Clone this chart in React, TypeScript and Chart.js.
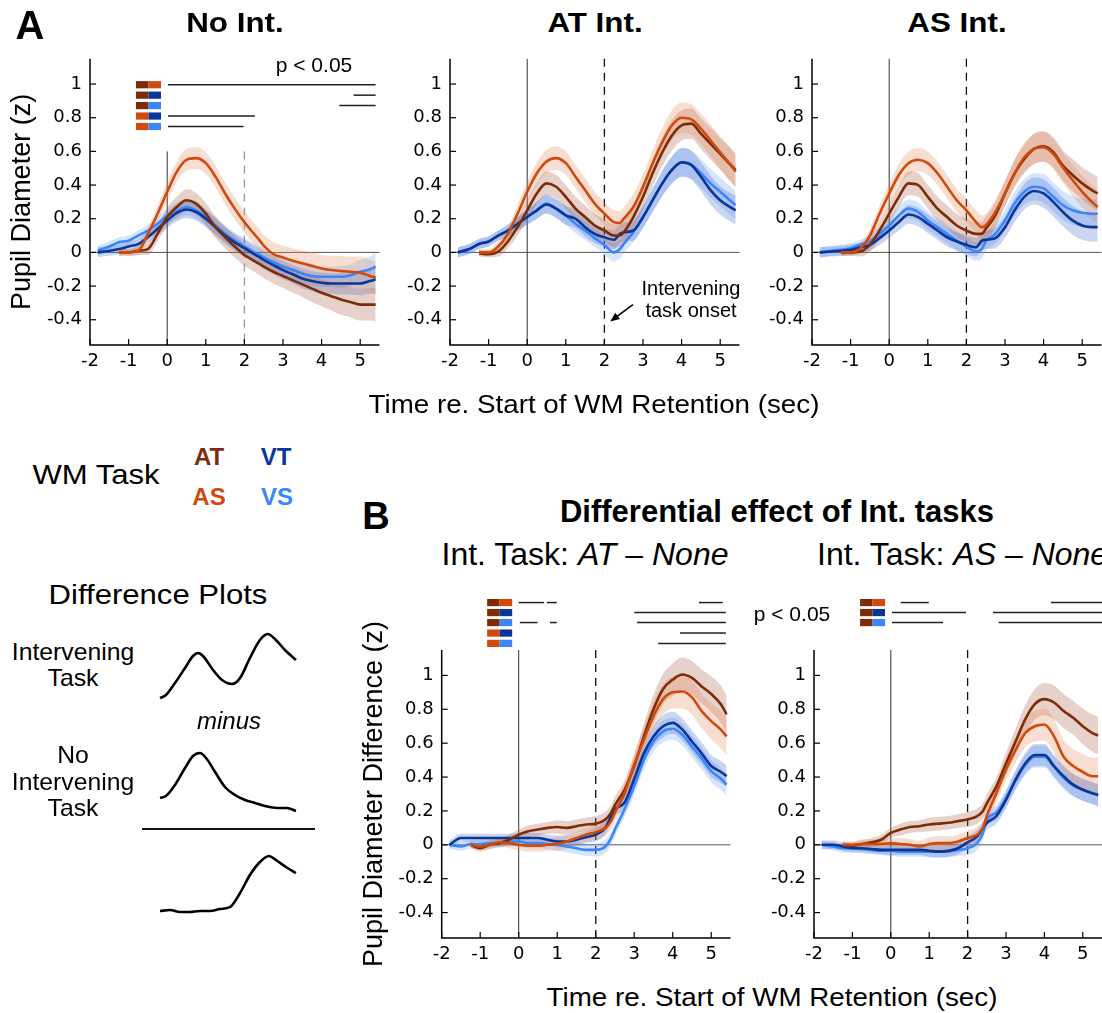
import React, { useEffect, useRef } from "react";
import { Chart, registerables } from "chart.js";
Chart.register(...registerables);

const FONT = "'Liberation Sans', Arial, Helvetica, sans-serif";
const TICK_FONT = "'DejaVu Sans', 'Liberation Sans', Arial, sans-serif";
Chart.defaults.font.family = FONT;
Chart.defaults.color = "#000";

const C_AT = "#7d2c08";
const C_AS = "#cf4a0c";
const C_VT = "#0a3797";
const C_VS = "#3b86fb";
const BAND_AT = "rgba(165, 95, 65, 0.28)";
const BAND_AS = "rgba(225, 135, 85, 0.28)";
const BAND_VT = "rgba(60, 100, 205, 0.27)";
const BAND_VS = "rgba(90, 150, 250, 0.25)";

// common time grid (sec re. start of WM retention)
const TIME = [-1.8, -1.5, -1.25, -1, -0.75, -0.5, -0.25, 0, 0.25, 0.5, 0.75, 1, 1.25, 1.5, 1.75, 2, 2.25, 2.4, 2.5, 2.75, 3, 3.25, 3.5, 3.75, 4, 4.25, 4.5, 4.75, 5, 5.25, 5.4];
const X_TICKS = [-2, -1, 0, 1, 2, 3, 4, 5];
const Y_TICKS = [-0.4, -0.2, 0, 0.2, 0.4, 0.6, 0.8, 1];

// Panel A: No Int.
const A1_AT = [null, null, 0, 0, 0.01, 0.02, 0.11, 0.21, 0.27, 0.31, 0.29, 0.23, 0.15, 0.09, 0.035, -0.015, -0.05, -0.07, -0.085, -0.115, -0.14, -0.165, -0.19, -0.215, -0.24, -0.26, -0.28, -0.295, -0.31, -0.31, -0.31];
const A1_AS = [null, null, 0, 0, 0.01, 0.11, 0.23, 0.36, 0.48, 0.55, 0.56, 0.53, 0.45, 0.35, 0.26, 0.18, 0.11, 0.07, 0.04, -0.01, -0.03, -0.05, -0.065, -0.08, -0.095, -0.105, -0.11, -0.115, -0.12, -0.14, -0.15];
const A1_VT = [0, 0.01, 0.02, 0.035, 0.05, 0.09, 0.14, 0.19, 0.235, 0.255, 0.24, 0.2, 0.15, 0.1, 0.06, 0.025, -0.01, -0.03, -0.045, -0.075, -0.105, -0.13, -0.155, -0.17, -0.18, -0.185, -0.185, -0.185, -0.185, -0.17, -0.16];
const A1_VS = [0.01, 0.035, 0.06, 0.07, 0.1, 0.13, 0.17, 0.215, 0.245, 0.27, 0.25, 0.21, 0.16, 0.11, 0.07, 0.035, 0.0, -0.015, -0.03, -0.058, -0.085, -0.105, -0.125, -0.14, -0.145, -0.145, -0.145, -0.135, -0.115, -0.1, -0.085];
const A1_SE_W = [0.02, 0.02, 0.02, 0.02, 0.025, 0.035, 0.045, 0.055, 0.06, 0.065, 0.065, 0.065, 0.065, 0.065, 0.065, 0.065, 0.065, 0.065, 0.065, 0.07, 0.07, 0.075, 0.075, 0.08, 0.08, 0.085, 0.09, 0.09, 0.095, 0.095, 0.1];
const A1_SE_C = [0.03, 0.03, 0.03, 0.03, 0.03, 0.035, 0.04, 0.045, 0.05, 0.05, 0.05, 0.05, 0.05, 0.05, 0.05, 0.05, 0.05, 0.05, 0.05, 0.055, 0.055, 0.055, 0.06, 0.06, 0.06, 0.06, 0.065, 0.065, 0.07, 0.075, 0.085];

// Panel A: AT Int.
const A2_AT = [null, null, -0.005, -0.01, 0.005, 0.065, 0.15, 0.25, 0.35, 0.41, 0.39, 0.33, 0.26, 0.21, 0.16, 0.13, 0.1, 0.1, 0.12, 0.21, 0.33, 0.47, 0.595, 0.695, 0.755, 0.765, 0.705, 0.645, 0.585, 0.525, 0.49];
const A2_AS = [null, null, 0, 0, 0.035, 0.11, 0.23, 0.36, 0.47, 0.54, 0.56, 0.53, 0.45, 0.37, 0.29, 0.23, 0.18, 0.175, 0.2, 0.27, 0.39, 0.53, 0.655, 0.755, 0.8, 0.79, 0.735, 0.665, 0.595, 0.525, 0.48];
const A2_VT = [0, 0.02, 0.05, 0.065, 0.1, 0.13, 0.17, 0.21, 0.25, 0.285, 0.26, 0.22, 0.2, 0.15, 0.11, 0.09, 0.075, 0.11, 0.12, 0.13, 0.21, 0.31, 0.41, 0.49, 0.535, 0.52, 0.45, 0.37, 0.31, 0.27, 0.25];
const A2_VS = [0, 0.02, 0.05, 0.065, 0.1, 0.13, 0.17, 0.21, 0.25, 0.29, 0.26, 0.22, 0.17, 0.13, 0.085, 0.045, 0.0, 0.02, 0.05, 0.12, 0.21, 0.31, 0.41, 0.49, 0.535, 0.52, 0.47, 0.41, 0.36, 0.31, 0.28];
const A2_SE_W = [0.02, 0.02, 0.02, 0.02, 0.03, 0.04, 0.05, 0.06, 0.065, 0.07, 0.07, 0.07, 0.07, 0.07, 0.07, 0.07, 0.07, 0.07, 0.07, 0.075, 0.075, 0.08, 0.085, 0.09, 0.09, 0.09, 0.09, 0.095, 0.095, 0.1, 0.1];
const A2_SE_C = [0.03, 0.03, 0.03, 0.03, 0.03, 0.035, 0.04, 0.045, 0.05, 0.055, 0.055, 0.055, 0.055, 0.055, 0.055, 0.055, 0.055, 0.055, 0.055, 0.06, 0.065, 0.07, 0.075, 0.08, 0.085, 0.085, 0.085, 0.085, 0.085, 0.085, 0.085];

// Panel A: AS Int.
const A3_AT = [null, null, 0, 0, 0.005, 0.045, 0.13, 0.23, 0.33, 0.41, 0.4, 0.33, 0.26, 0.21, 0.16, 0.13, 0.11, 0.11, 0.14, 0.22, 0.35, 0.47, 0.555, 0.615, 0.63, 0.595, 0.515, 0.46, 0.41, 0.37, 0.35];
const A3_AS = [null, null, 0, 0, 0.025, 0.1, 0.23, 0.35, 0.46, 0.53, 0.55, 0.53, 0.47, 0.39, 0.31, 0.25, 0.18, 0.15, 0.16, 0.24, 0.35, 0.47, 0.565, 0.615, 0.625, 0.585, 0.505, 0.43, 0.36, 0.3, 0.27];
const A3_VT = [0, 0.005, 0.01, 0.015, 0.03, 0.045, 0.085, 0.13, 0.18, 0.225, 0.21, 0.17, 0.13, 0.09, 0.065, 0.045, 0.03, 0.07, 0.075, 0.085, 0.15, 0.25, 0.33, 0.365, 0.35, 0.3, 0.24, 0.19, 0.16, 0.15, 0.15];
const A3_VS = [0, 0.01, 0.015, 0.025, 0.045, 0.065, 0.11, 0.16, 0.22, 0.26, 0.24, 0.19, 0.15, 0.11, 0.07, 0.035, 0.005, 0.02, 0.065, 0.11, 0.19, 0.29, 0.36, 0.39, 0.38, 0.33, 0.28, 0.25, 0.235, 0.23, 0.23];

// Panel B: AT - None
const B1_AT = [null, null, 0, -0.02, 0, 0.01, 0.03, 0.06, 0.08, 0.09, 0.1, 0.105, 0.1, 0.11, 0.12, 0.125, 0.15, 0.19, 0.235, 0.325, 0.465, 0.64, 0.8, 0.92, 0.975, 1.005, 0.985, 0.935, 0.89, 0.83, 0.77];
const B1_AS = [null, null, 0, -0.01, 0, 0.015, 0.01, 0, -0.005, -0.005, 0, 0.005, 0.02, 0.04, 0.06, 0.075, 0.1, 0.14, 0.19, 0.305, 0.475, 0.62, 0.76, 0.86, 0.9, 0.905, 0.87, 0.79, 0.73, 0.68, 0.64];
const B1_VT = [0, 0.04, 0.04, 0.04, 0.04, 0.04, 0.04, 0.04, 0.04, 0.04, 0.03, 0.02, 0.02, 0.03, 0.045, 0.06, 0.1, 0.17, 0.21, 0.25, 0.39, 0.54, 0.64, 0.7, 0.72, 0.68, 0.61, 0.54, 0.465, 0.43, 0.405];
const B1_VS = [0, -0.01, 0.005, 0.005, 0.01, 0.01, 0.02, 0.02, 0.01, 0.01, 0.005, 0, -0.01, -0.02, -0.03, -0.03, -0.01, 0.04, 0.09, 0.21, 0.345, 0.5, 0.61, 0.67, 0.685, 0.65, 0.58, 0.51, 0.435, 0.39, 0.355];

// Panel B: AS - None
const B2_AT = [null, null, 0, -0.005, 0.005, 0.015, 0.03, 0.07, 0.09, 0.105, 0.11, 0.12, 0.125, 0.13, 0.14, 0.15, 0.17, 0.2, 0.245, 0.345, 0.48, 0.61, 0.74, 0.83, 0.86, 0.84, 0.79, 0.75, 0.7, 0.66, 0.645];
const B2_AS = [null, null, 0, 0, 0.005, 0.005, 0.005, 0.01, 0.005, 0, -0.01, 0.005, 0.01, 0.01, 0.02, 0.04, 0.06, 0.1, 0.17, 0.305, 0.445, 0.56, 0.66, 0.7, 0.71, 0.64, 0.52, 0.465, 0.43, 0.405, 0.405];
const B2_VT = [0, 0, -0.01, -0.02, -0.02, -0.025, -0.03, -0.03, -0.03, -0.03, -0.03, -0.035, -0.04, -0.035, -0.02, 0.015, 0.05, 0.1, 0.13, 0.17, 0.265, 0.385, 0.48, 0.53, 0.53, 0.465, 0.405, 0.355, 0.325, 0.305, 0.295];
const B2_VS = [0, -0.01, -0.02, -0.02, -0.025, -0.03, -0.035, -0.035, -0.04, -0.04, -0.04, -0.04, -0.04, -0.04, -0.03, -0.02, 0.01, 0.07, 0.15, 0.19, 0.275, 0.38, 0.47, 0.52, 0.52, 0.46, 0.395, 0.35, 0.325, 0.305, 0.29];

const B_SE_W = [0.02, 0.02, 0.02, 0.02, 0.025, 0.025, 0.03, 0.03, 0.035, 0.035, 0.035, 0.04, 0.04, 0.04, 0.04, 0.045, 0.045, 0.045, 0.05, 0.055, 0.065, 0.075, 0.085, 0.09, 0.095, 0.1, 0.1, 0.1, 0.105, 0.11, 0.11];
const B_SE_C = [0.025, 0.025, 0.025, 0.025, 0.025, 0.025, 0.025, 0.03, 0.03, 0.03, 0.03, 0.035, 0.035, 0.035, 0.035, 0.04, 0.04, 0.04, 0.04, 0.045, 0.05, 0.055, 0.06, 0.065, 0.065, 0.065, 0.065, 0.065, 0.065, 0.065, 0.065];

// significance (p < 0.05) rows: pair colours, row level, segments [from, to] in sec
const PAIRS = [[C_AT, C_AS], [C_AT, C_VT], [C_AT, C_VS], [C_AS, C_VT], [C_AS, C_VS]];
const A1_SIG_Y = [0.996, 0.934, 0.872, 0.81, 0.748];
const A1_SIG = [[[0.02, 5.4]], [[4.83, 5.4]], [[4.46, 5.4]], [[0.02, 2.27]], [[0.02, 1.98]]];
const B_SIG_Y = [1.43, 1.371, 1.312, 1.25, 1.189];
const B1_SIG = [[[0, 0.66], [0.73, 0.99], [4.68, 5.3]], [[3.0, 5.38]], [[0.03, 0.49], [0.81, 0.99], [3.07, 5.38]], [[4.19, 5.38]], [[3.62, 5.38]]];
const B2_SIG = [[[0.26, 0.99], [4.17, 5.5]], [[0.03, 1.96], [2.66, 5.5]], [[0.03, 1.36], [2.81, 5.5]]];

// schematic "difference plots" curves
const S1_T = [0, 0.35, 0.88, 1.47, 1.94, 2.24, 2.53, 3.12, 3.65, 4.24, 4.71, 5.29, 5.88, 6.35, 6.76, 7.35, 8.0];
const S1_H = [0, 3, 15, 30, 42, 45, 42, 28, 18, 14, 20, 40, 58, 64, 59, 48, 38];
const S2_T = [0, 0.35, 0.88, 1.47, 1.94, 2.35, 2.71, 3.24, 3.82, 4.41, 5.0, 5.59, 6.18, 6.88, 7.47, 8.0];
const S2_H = [0, 2, 13, 30, 42, 45, 40, 26, 11, 3, -2, -5, -8, -10, -10, -13];
const S3_T = [0, 0.59, 1.18, 1.76, 2.35, 2.94, 3.53, 4.12, 4.71, 5.29, 5.88, 6.41, 6.82, 7.41, 8.0];
const S3_H = [0, 1, -1, -1, 0, 0, 2, 4, 18, 36, 49, 55, 51, 44, 38];

function Panel(p: any) {
  const ref = useRef<HTMLCanvasElement>(null);
  useEffect(() => {
    const band = (v: any[], se: number[], s: number) => TIME.map((t, i) => ({ x: t, y: v[i] == null ? null : v[i] + s * se[i] }));
    const line = (v: any[]) => TIME.map((t, i) => ({ x: t, y: v[i] }));
    const series = [
      { v: p.vs, se: p.seC, c: C_VS, b: BAND_VS, o: 3 },
      { v: p.vt, se: p.seC, c: C_VT, b: BAND_VT, o: 2 },
      { v: p.at, se: p.seW, c: C_AT, b: BAND_AT, o: 1 },
      { v: p.as, se: p.seW, c: C_AS, b: BAND_AS, o: 0 },
    ];
    const datasets: any[] = [];
    series.forEach((s) => {
      datasets.push({ data: band(s.v, s.se, 1), borderWidth: 0, pointRadius: 0, backgroundColor: s.b, fill: "+1", order: 10 + s.o, cubicInterpolationMode: "monotone" });
      datasets.push({ data: band(s.v, s.se, -1), borderWidth: 0, pointRadius: 0, fill: false, order: 10 + s.o, cubicInterpolationMode: "monotone" });
    });
    series.forEach((s) => {
      datasets.push({ data: line(s.v), borderColor: s.c, borderWidth: 2.6, pointRadius: 0, fill: false, order: s.o, cubicInterpolationMode: "monotone" });
    });

    const decor = {
      id: "decor",
      beforeDatasetsDraw(chart: any) {
        const { ctx, chartArea: a, scales } = chart;
        const x = scales.x, y = scales.y;
        ctx.save();
        const y0 = y.getPixelForValue(0);
        ctx.strokeStyle = "#555";
        ctx.lineWidth = 1;
        ctx.beginPath(); ctx.moveTo(a.left, y0); ctx.lineTo(a.right, y0); ctx.stroke();
        const yTop = p.refFrom == null ? a.top : y.getPixelForValue(p.refFrom);
        const x0 = x.getPixelForValue(0);
        ctx.strokeStyle = "#333";
        ctx.beginPath(); ctx.moveTo(x0, yTop); ctx.lineTo(x0, a.bottom); ctx.stroke();
        const x2 = x.getPixelForValue(2);
        ctx.setLineDash([8, 6]);
        ctx.strokeStyle = p.dashColor;
        ctx.lineWidth = 1.3;
        ctx.beginPath(); ctx.moveTo(x2, yTop); ctx.lineTo(x2, a.bottom); ctx.stroke();
        ctx.restore();
      },
      afterDraw(chart: any) {
        const { ctx, chartArea: a, scales } = chart;
        const x = scales.x, y = scales.y;
        ctx.save();
        ctx.strokeStyle = "#000";
        ctx.lineWidth = 1.5;
        ctx.beginPath();
        ctx.moveTo(a.left, a.top); ctx.lineTo(a.left, a.bottom); ctx.lineTo(a.right, a.bottom);
        ctx.stroke();
        ctx.lineWidth = 1.2;
        X_TICKS.forEach((v) => {
          const px = x.getPixelForValue(v);
          ctx.beginPath(); ctx.moveTo(px, a.bottom); ctx.lineTo(px, a.bottom - 6); ctx.stroke();
        });
        Y_TICKS.forEach((v) => {
          const py = y.getPixelForValue(v);
          ctx.beginPath(); ctx.moveTo(a.left, py); ctx.lineTo(a.left + 6, py); ctx.stroke();
        });
        // significance chips and bars
        const cx0 = x.getPixelForValue(p.chipX[0]);
        const cx1 = x.getPixelForValue(p.chipX[1]);
        const cm = (cx0 + cx1) / 2;
        p.sig.forEach((segs: number[][], r: number) => {
          const py = y.getPixelForValue(p.sigY[r]);
          const cols = PAIRS[r];
          ctx.fillStyle = cols[0];
          ctx.fillRect(cx0, py - 3.6, cm - cx0, 7.2);
          ctx.fillStyle = cols[1];
          ctx.fillRect(cm, py - 3.6, cx1 - cm, 7.2);
          ctx.strokeStyle = "#222";
          ctx.lineWidth = 1.5;
          segs.forEach((sg) => {
            ctx.beginPath();
            ctx.moveTo(x.getPixelForValue(sg[0]), py);
            ctx.lineTo(x.getPixelForValue(sg[1]), py);
            ctx.stroke();
          });
        });
        if (p.arrow) {
          const [tx, ty, hx, hy] = p.arrow;
          const X1 = x.getPixelForValue(tx), Y1 = y.getPixelForValue(ty);
          const X2 = x.getPixelForValue(hx), Y2 = y.getPixelForValue(hy);
          const ang = Math.atan2(Y2 - Y1, X2 - X1);
          ctx.strokeStyle = "#000";
          ctx.lineWidth = 1.6;
          ctx.beginPath(); ctx.moveTo(X1, Y1); ctx.lineTo(X2 - 6 * Math.cos(ang), Y2 - 6 * Math.sin(ang)); ctx.stroke();
          ctx.fillStyle = "#000";
          ctx.beginPath();
          ctx.moveTo(X2, Y2);
          ctx.lineTo(X2 - 10 * Math.cos(ang - 0.4), Y2 - 10 * Math.sin(ang - 0.4));
          ctx.lineTo(X2 - 10 * Math.cos(ang + 0.4), Y2 - 10 * Math.sin(ang + 0.4));
          ctx.closePath(); ctx.fill();
        }
        ctx.restore();
      },
    };

    const chart = new Chart(ref.current as HTMLCanvasElement, {
      type: "line",
      data: { datasets },
      plugins: [decor],
      options: {
        animation: false,
        responsive: false,
        devicePixelRatio: 1,
        layout: { padding: { top: p.padTop, right: p.padRight, left: 0, bottom: 0 } },
        plugins: { legend: { display: false }, tooltip: { enabled: false }, title: { display: false } },
        scales: {
          x: {
            type: "linear",
            min: -2,
            max: 5.5,
            afterBuildTicks: (ax: any) => { ax.ticks = X_TICKS.map((v) => ({ value: v })); },
            afterFit: (s: any) => { s.height = p.xAxisH; },
            ticks: { font: { size: 18, family: TICK_FONT }, color: "#000", padding: 6, autoSkip: false, maxRotation: 0, callback: (v: any) => String(v) },
            grid: { display: false, drawTicks: false },
            border: { display: false },
          },
          y: {
            type: "linear",
            min: -0.55,
            max: 1.15,
            afterBuildTicks: (ax: any) => { ax.ticks = Y_TICKS.map((v) => ({ value: v })); },
            afterFit: (s: any) => { s.width = p.axisW; },
            ticks: { font: { size: 18, family: TICK_FONT }, color: "#000", padding: 8, autoSkip: false, callback: (v: any) => String(v) },
            grid: { display: false, drawTicks: false },
            border: { display: false },
            title: p.yTitle
              ? { display: true, text: p.yTitle, font: { size: p.yTitleSize }, color: "#000", padding: { top: p.yTitlePad, bottom: 0 } }
              : { display: false },
          },
        },
      } as any,
    });
    return () => chart.destroy();
  }, []);
  return (
    <canvas
      ref={ref}
      width={p.width}
      height={p.height}
      style={{ position: "absolute", left: p.left, top: p.top, width: p.width, height: p.height }}
    />
  );
}

function Sketch(p: any) {
  const ref = useRef<HTMLCanvasElement>(null);
  useEffect(() => {
    const chart = new Chart(ref.current as HTMLCanvasElement, {
      type: "line",
      data: {
        datasets: [
          {
            data: p.t.map((t: number, i: number) => ({ x: t, y: p.h[i] })),
            borderColor: "#000",
            borderWidth: 2.6,
            pointRadius: 0,
            fill: false,
            cubicInterpolationMode: "monotone",
          },
        ],
      },
      options: {
        animation: false,
        responsive: false,
        devicePixelRatio: 1,
        layout: { padding: 0 },
        plugins: { legend: { display: false }, tooltip: { enabled: false } },
        scales: {
          x: { type: "linear", display: false, min: -0.59, max: 8.59 },
          y: { type: "linear", display: false, min: -20, max: 70 },
        },
      } as any,
    });
    return () => chart.destroy();
  }, []);
  return <canvas ref={ref} width={156} height={90} style={{ position: "absolute", left: p.left, top: p.top, width: 156, height: 90 }} />;
}

function Txt(p: any) {
  const sx = p.sx || 1;
  return (
    <div
      style={{
        position: "absolute",
        left: p.x,
        top: p.y,
        transform: p.left ? `translate(0,-50%) scaleX(${sx})` : `translate(-50%,-50%) scaleX(${sx})`,
        transformOrigin: p.left ? "left center" : "center center",
        fontSize: p.size,
        lineHeight: 1,
        fontFamily: FONT,
        fontWeight: p.bold ? "bold" : "normal",
        fontStyle: p.italic ? "italic" : "normal",
        color: p.color || "#000",
        whiteSpace: "nowrap",
      }}
    >
      {p.children}
    </div>
  );
}

export default function App() {
  return (
    <div style={{ position: "absolute", left: 0, top: 0, width: 1102, height: 1013, overflow: "hidden", background: "#fff", fontFamily: FONT }}>
      <Panel left={0} top={40} width={385} height={390} axisW={90} padTop={17} padRight={5.5} xAxisH={85}
        at={A1_AT} as={A1_AS} vt={A1_VT} vs={A1_VS} seW={A1_SE_W} seC={A1_SE_C}
        sig={A1_SIG} sigY={A1_SIG_Y} chipX={[-0.81, -0.16]} refFrom={0.6} dashColor="#9a9a9a"
        yTitle="Pupil Diameter (z)" yTitleSize={27} yTitlePad={6} />
      <Panel left={385} top={40} width={355} height={390} axisW={65} padTop={17} padRight={0.5} xAxisH={85}
        at={A2_AT} as={A2_AS} vt={A2_VT} vs={A2_VS} seW={A2_SE_W} seC={A2_SE_C}
        sig={[]} sigY={[]} chipX={[-0.8, -0.15]} refFrom={null} dashColor="#111" arrow={[2.74, -0.31, 2.15, -0.41]} />
      <Panel left={740} top={40} width={362} height={390} axisW={72} padTop={17} padRight={0.5} xAxisH={85}
        at={A3_AT} as={A3_AS} vt={A3_VT} vs={A3_VS} seW={A2_SE_W} seC={A2_SE_C}
        sig={[]} sigY={[]} chipX={[-0.8, -0.15]} refFrom={null} dashColor="#111" />
      <Panel left={355} top={590} width={385} height={390} axisW={86.7} padTop={60} padRight={9.5} xAxisH={42}
        at={B1_AT} as={B1_AS} vt={B1_VT} vs={B1_VS} seW={B_SE_W} seC={B_SE_C}
        sig={B1_SIG} sigY={B_SIG_Y} chipX={[-0.82, -0.17]} refFrom={null} dashColor="#111"
        yTitle="Pupil Diameter Difference (z)" yTitleSize={27} yTitlePad={3} />
      <Panel left={740} top={590} width={362} height={390} axisW={74} padTop={60} padRight={0} xAxisH={42}
        at={B2_AT} as={B2_AS} vt={B2_VT} vs={B2_VS} seW={B_SE_W} seC={B_SE_C}
        sig={B2_SIG} sigY={B_SIG_Y} chipX={[-0.8, -0.15]} refFrom={null} dashColor="#111" />

      <Sketch left={150} top={628} t={S1_T} h={S1_H} />
      <Sketch left={150} top={728} t={S2_T} h={S2_H} />
      <Sketch left={150} top={841} t={S3_T} h={S3_H} />
      <div style={{ position: "absolute", left: 142, top: 828, width: 173, height: 1.6, background: "#111" }} />

      <Txt x={30} y={25} size={40} bold>A</Txt>
      <Txt x={235} y={23} size={28} bold sx={1.12}>No Int.</Txt>
      <Txt x={595} y={23} size={28} bold sx={1.12}>AT Int.</Txt>
      <Txt x={957} y={23} size={28} bold sx={1.12}>AS Int.</Txt>
      <Txt x={314} y={64} size={21}>p &lt; 0.05</Txt>
      <Txt x={691} y={288} size={20}>Intervening</Txt>
      <Txt x={691} y={310} size={20}>task onset</Txt>
      <Txt x={594} y={404} size={25} sx={1.11}>Time re. Start of WM Retention (sec)</Txt>

      <Txt x={96} y={475} size={28} sx={1.11}>WM Task</Txt>
      <Txt x={209} y={457} size={24} bold color={C_AT}>AT</Txt>
      <Txt x={276} y={457} size={24} bold color={C_VT}>VT</Txt>
      <Txt x={209} y={497} size={24} bold color={C_AS}>AS</Txt>
      <Txt x={277} y={497} size={24} bold color={C_VS}>VS</Txt>

      <Txt x={158} y={595} size={28} sx={1.11}>Difference Plots</Txt>
      <Txt x={73} y={652} size={24} sx={1.03}>Intervening</Txt>
      <Txt x={73} y={678} size={24} sx={1.03}>Task</Txt>
      <Txt x={229} y={721} size={24} italic>minus</Txt>
      <Txt x={73} y={755} size={24} sx={1.03}>No</Txt>
      <Txt x={73} y={782} size={24} sx={1.03}>Intervening</Txt>
      <Txt x={73} y={808} size={24} sx={1.03}>Task</Txt>

      <Txt x={376} y={516} size={38} bold>B</Txt>
      <Txt x={777} y={511} size={31} bold>Differential effect of Int. tasks</Txt>
      <Txt x={585} y={554} size={32}>Int. Task: <i>AT</i> – <i>None</i></Txt>
      <Txt x={817} y={554} size={32} left>Int. Task: <i>AS</i> – <i>None</i></Txt>
      <Txt x={792} y={613} size={21}>p &lt; 0.05</Txt>
      <Txt x={772} y={997} size={25} sx={1.11}>Time re. Start of WM Retention (sec)</Txt>
    </div>
  );
}
